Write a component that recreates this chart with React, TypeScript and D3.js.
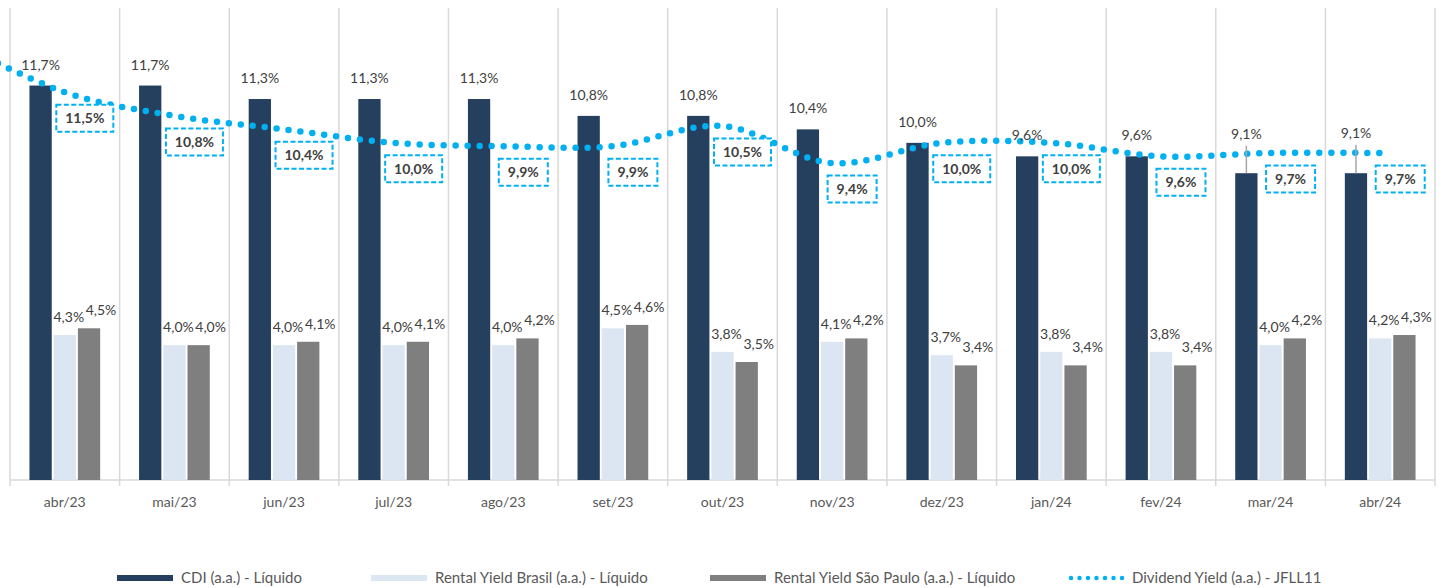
import { useEffect } from "react";
import * as d3 from "d3";

const categories = ["abr/23", "mai/23", "jun/23", "jul/23", "ago/23", "set/23", "out/23", "nov/23", "dez/23", "jan/24", "fev/24", "mar/24", "abr/24"];
const cdi = [11.7, 11.7, 11.3, 11.3, 11.3, 10.8, 10.8, 10.4, 10.0, 9.6, 9.6, 9.1, 9.1];
const rentalBrasil = [4.3, 4.0, 4.0, 4.0, 4.0, 4.5, 3.8, 4.1, 3.7, 3.8, 3.8, 4.0, 4.2];
const rentalSP = [4.5, 4.0, 4.1, 4.1, 4.2, 4.6, 3.5, 4.2, 3.4, 3.4, 3.4, 4.2, 4.3];
const dividendYield = [11.5, 10.8, 10.4, 10.0, 9.9, 9.9, 10.5, 9.4, 10.0, 10.0, 9.6, 9.7, 9.7];
// the line comes in from the month before the first one shown (mar/23), which is cut off on the left
const dividendYieldPrev = 13.0;

const seriesNames = ["CDI (a.a.) - Líquido", "Rental Yield Brasil (a.a.) - Líquido", "Rental Yield São Paulo (a.a.) - Líquido", "Dividend Yield (a.a.) - JFLL11"];
const barColors = ["#253F5F", "#DCE6F2", "#7F7F7F"];
const lineColor = "#00B0F0";

const W = 1441;
const H = 588;
const FONT = "Lato, 'Open Sans', sans-serif";

const fmt = (v: number) => v.toFixed(1).replace(".", ",") + "%";

// same maths as d3.curveCardinal.tension(0), used to find the line's y at a given x
function curveY(pts: [number, number][], x: number) {
  const k = 1 / 6;
  let best = { d: Infinity, y: pts[0][1] };
  for (let i = 0; i < pts.length - 1; i++) {
    const p1 = pts[i], p2 = pts[i + 1];
    if (x < p1[0] || x > p2[0]) continue;
    const p0 = i > 0 ? pts[i - 1] : p1;
    const c1: [number, number] = i > 0 ? [p1[0] + k * (p2[0] - p0[0]), p1[1] + k * (p2[1] - p0[1])] : [p1[0], p1[1]];
    const c2: [number, number] = i + 2 < pts.length
      ? [p2[0] + k * (p1[0] - pts[i + 2][0]), p2[1] + k * (p1[1] - pts[i + 2][1])]
      : [p2[0], p2[1]];
    for (let s = 0; s <= 200; s++) {
      const t = s / 200, u = 1 - t;
      const bx = u * u * u * p1[0] + 3 * u * u * t * c1[0] + 3 * u * t * t * c2[0] + t * t * t * p2[0];
      const by = u * u * u * p1[1] + 3 * u * u * t * c1[1] + 3 * u * t * t * c2[1] + t * t * t * p2[1];
      if (Math.abs(bx - x) < best.d) best = { d: Math.abs(bx - x), y: by };
    }
  }
  return best.y;
}

export default function App() {
  useEffect(() => {
    document.body.style.margin = "0";
  }, []);

  const left = 10, right = 1435, baseY = 480, topY = 8;

  const x0 = d3.scaleBand().domain(categories).range([left, right]).paddingInner(0.355).paddingOuter(0.1775);
  const x1 = d3.scaleBand().domain(["cdi", "br", "sp"]).range([0, x0.bandwidth()]).paddingInner(0.08);
  const y = d3.scaleLinear().domain([0, 14]).range([baseY, topY]);
  const step = x0.step();
  const cx = (c: string) => (x0(c) ?? 0) + x0.bandwidth() / 2;

  const linePts: [number, number][] = [
    [cx(categories[0]) - step, y(dividendYieldPrev)],
    ...categories.map((c, i) => [cx(c), y(dividendYield[i])] as [number, number]),
  ];
  const linePath = d3.line().curve(d3.curveCardinal.tension(0))(linePts) ?? "";

  const gridXs = d3.range(categories.length + 1).map((i) => left + i * step);

  const textColor = "#404040";
  const axisColor = "#595959";

  const legendX = [117, 371, 710, 1068];
  const legendY = 578;

  return (
    <svg width={W} height={H} style={{ display: "block", background: "#fff" }} fontFamily={FONT}>
      {/* vertical category separators */}
      {gridXs.map((gx, i) => (
        <line key={"g" + i} x1={gx} x2={gx} y1={topY} y2={baseY + 6} stroke="#D9D9D9" strokeWidth={1.5} />
      ))}
      <line x1={left} x2={right} y1={baseY} y2={baseY} stroke="#D9D9D9" strokeWidth={1.5} />

      {/* bars */}
      {categories.map((c, i) => {
        const vals = [cdi[i], rentalBrasil[i], rentalSP[i]];
        return (
          <g key={"b" + c} transform={`translate(${x0(c)},0)`}>
            {(["cdi", "br", "sp"] as const).map((s, j) => (
              <rect key={s} x={x1(s)} y={y(vals[j])} width={x1.bandwidth()} height={baseY - y(vals[j])} fill={barColors[j]} />
            ))}
          </g>
        );
      })}

      {/* rental labels */}
      {categories.map((c, i) => {
        const bx = (x0(c) ?? 0) + (x1("br") ?? 0) + x1.bandwidth() / 2;
        const sx = (x0(c) ?? 0) + (x1("sp") ?? 0) + x1.bandwidth() / 2;
        return (
          <g key={"rl" + c} fontSize={14} fill={textColor}>
            <text x={bx + 4} y={y(rentalBrasil[i]) - 13} textAnchor="middle">{fmt(rentalBrasil[i])}</text>
            <text x={sx + 12} y={y(rentalSP[i]) - 13} textAnchor="middle">{fmt(rentalSP[i])}</text>
          </g>
        );
      })}

      {/* dividend yield line */}
      <path d={linePath} fill="none" stroke={lineColor} strokeWidth={6.5} strokeLinecap="round" strokeDasharray="0 12" />

      {/* CDI labels, lifted above the line with a leader where they would sit on it */}
      {categories.map((c, i) => {
        const bx = (x0(c) ?? 0) + (x1("cdi") ?? 0) + x1.bandwidth() / 2;
        const top = y(cdi[i]);
        let base = top - 16;
        const ly = curveY(linePts, bx);
        const hits = Math.abs(base - 5 - ly) < 6;
        if (hits) base = ly - 15;
        return (
          <g key={"cl" + c}>
            {hits && <line x1={bx} x2={bx} y1={base + 7} y2={top} stroke="#A6A6A6" strokeWidth={1.5} />}
            <text x={bx} y={base} textAnchor="middle" fontSize={14} fill={textColor}>{fmt(cdi[i])}</text>
          </g>
        );
      })}

      {/* boxed dividend yield labels */}
      {categories.map((c, i) => {
        const label = fmt(dividendYield[i]);
        const w = 17 + 8 * label.length;
        const h = 27;
        const bx = cx(c) + 20;
        const by = y(dividendYield[i]) + 26;
        return (
          <g key={"dl" + c}>
            <rect x={bx - w / 2} y={by - h / 2} width={w} height={h} fill="#fff" stroke={lineColor} strokeWidth={2} strokeDasharray="5 2.5" />
            <text x={bx} y={by + 5} textAnchor="middle" fontSize={14} fontWeight="bold" fill={textColor}>{label}</text>
          </g>
        );
      })}

      {/* category axis */}
      {categories.map((c) => (
        <text key={"ax" + c} x={cx(c)} y={507} textAnchor="middle" fontSize={14} fill={axisColor}>{c}</text>
      ))}

      {/* legend */}
      {seriesNames.map((name, i) => (
        <g key={"lg" + i} transform={`translate(${legendX[i]},${legendY})`}>
          {i < 3 ? (
            <rect x={0} y={-3} width={56} height={6} fill={barColors[i]} />
          ) : (
            <line x1={3} x2={56} y1={0} y2={0} stroke={lineColor} strokeWidth={4.5} strokeLinecap="round" strokeDasharray="0 8.5" />
          )}
          <text x={64} y={5} fontSize={15} fill={axisColor}>{name}</text>
        </g>
      ))}
    </svg>
  );
}
